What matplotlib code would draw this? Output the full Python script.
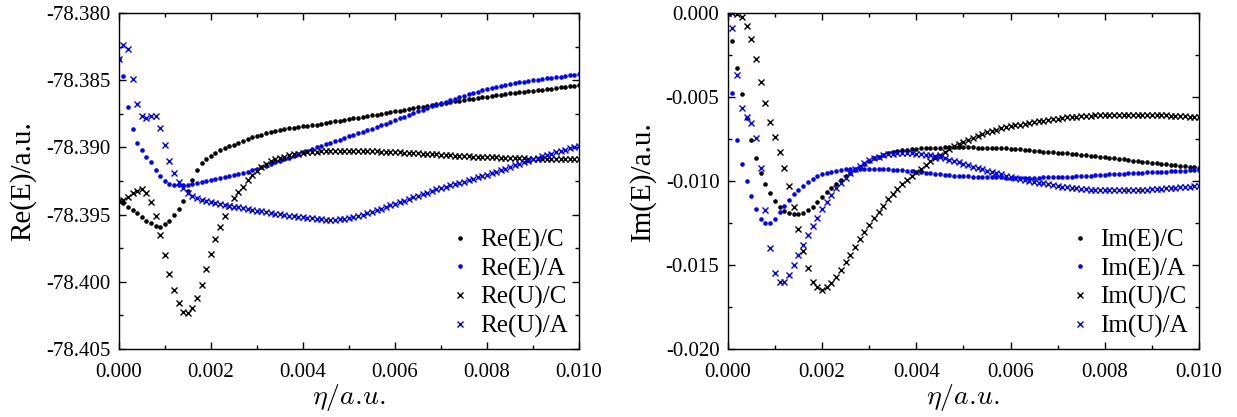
import matplotlib
matplotlib.use("Agg")
import matplotlib.pyplot as plt
import numpy as np
from matplotlib.ticker import MultipleLocator, FormatStrFormatter

plt.rcParams['font.family'] = ['Liberation Serif', 'DejaVu Serif']
plt.rcParams['mathtext.fontset'] = 'cm'
plt.rcParams['axes.unicode_minus'] = False

# eta grid, 0 .. 0.010 in steps of 1e-4
eta = np.arange(101) * 1e-4

re_E_C = [-78.39396, -78.39416, -78.39441, -78.39466, -78.39490, -78.39518, -78.39545, -78.39565, -78.39585, -78.39590,
          -78.39572, -78.39545, -78.39502, -78.39456, -78.39396, -78.39328, -78.39240, -78.39165, -78.39118, -78.39088,
          -78.39062, -78.39040, -78.39022, -78.39006, -78.38992, -78.38980, -78.38966, -78.38952, -78.38938, -78.38925,
          -78.38914, -78.38905, -78.38896, -78.38887, -78.38880, -78.38872, -78.38866, -78.38859, -78.38853, -78.38848,
          -78.38843, -78.38838, -78.38834, -78.38830, -78.38824, -78.38818, -78.38812, -78.38806, -78.38801, -78.38795,
          -78.38790, -78.38784, -78.38778, -78.38773, -78.38767, -78.38762, -78.38756, -78.38751, -78.38745, -78.38739,
          -78.38733, -78.38727, -78.38721, -78.38715, -78.38709, -78.38703, -78.38697, -78.38691, -78.38685, -78.38679,
          -78.38674, -78.38668, -78.38663, -78.38657, -78.38652, -78.38647, -78.38642, -78.38637, -78.38632, -78.38627,
          -78.38622, -78.38617, -78.38612, -78.38608, -78.38603, -78.38599, -78.38595, -78.38590, -78.38586, -78.38582,
          -78.38578, -78.38574, -78.38570, -78.38566, -78.38562, -78.38558, -78.38554, -78.38550, -78.38546, -78.38542,
          -78.38538]

re_E_A = [-78.38340, -78.38466, -78.38697, -78.38866, -78.38965, -78.39020, -78.39070, -78.39110, -78.39170, -78.39210,
          -78.39250, -78.39270, -78.39280, -78.39282, -78.39281, -78.39278, -78.39272, -78.39265, -78.39258, -78.39250,
          -78.39242, -78.39235, -78.39228, -78.39221, -78.39214, -78.39207, -78.39199, -78.39190, -78.39180, -78.39170,
          -78.39159, -78.39148, -78.39136, -78.39124, -78.39112, -78.39100, -78.39088, -78.39076, -78.39063, -78.39051,
          -78.39038, -78.39025, -78.39012, -78.38999, -78.38988, -78.38977, -78.38965, -78.38954, -78.38942, -78.38931,
          -78.38919, -78.38908, -78.38896, -78.38884, -78.38872, -78.38860, -78.38848, -78.38836, -78.38823, -78.38810,
          -78.38797, -78.38784, -78.38771, -78.38758, -78.38745, -78.38732, -78.38719, -78.38706, -78.38694, -78.38682,
          -78.38670, -78.38659, -78.38648, -78.38637, -78.38626, -78.38616, -78.38606, -78.38596, -78.38586, -78.38576,
          -78.38567, -78.38559, -78.38551, -78.38543, -78.38536, -78.38529, -78.38523, -78.38517, -78.38511, -78.38505,
          -78.38500, -78.38495, -78.38490, -78.38485, -78.38481, -78.38477, -78.38473, -78.38469, -78.38465, -78.38461,
          -78.38457]

re_U_C = [-78.39396, -78.39391, -78.39366, -78.39342, -78.39327, -78.39312, -78.39337, -78.39404, -78.39510, -78.39652,
          -78.39803, -78.39942, -78.40061, -78.40160, -78.40222, -78.40235, -78.40197, -78.40122, -78.40024, -78.39905,
          -78.39793, -78.39684, -78.39590, -78.39508, -78.39434, -78.39379, -78.39335, -78.39293, -78.39240, -78.39205,
          -78.39175, -78.39148, -78.39125, -78.39105, -78.39090, -78.39078, -78.39068, -78.39060, -78.39053, -78.39047,
          -78.39042, -78.39038, -78.39034, -78.39031, -78.39029, -78.39027, -78.39026, -78.39025, -78.39024, -78.39024,
          -78.39024, -78.39024, -78.39025, -78.39026, -78.39027, -78.39028, -78.39029, -78.39031, -78.39032, -78.39034,
          -78.39036, -78.39037, -78.39039, -78.39041, -78.39043, -78.39045, -78.39047, -78.39049, -78.39051, -78.39053,
          -78.39055, -78.39057, -78.39059, -78.39061, -78.39063, -78.39065, -78.39067, -78.39068, -78.39070, -78.39071,
          -78.39073, -78.39074, -78.39075, -78.39077, -78.39078, -78.39079, -78.39080, -78.39081, -78.39082, -78.39083,
          -78.39084, -78.39085, -78.39085, -78.39086, -78.39087, -78.39087, -78.39088, -78.39088, -78.39089, -78.39089,
          -78.39089]

re_U_A = [-78.38340, -78.38240, -78.38270, -78.38490, -78.38680, -78.38770, -78.38780, -78.38770, -78.38770, -78.38853,
          -78.38980, -78.39100, -78.39190, -78.39255, -78.39305, -78.39337, -78.39360, -78.39375, -78.39388, -78.39398,
          -78.39407, -78.39415, -78.39422, -78.39429, -78.39435, -78.39441, -78.39447, -78.39453, -78.39459, -78.39465,
          -78.39471, -78.39477, -78.39482, -78.39488, -78.39493, -78.39498, -78.39503, -78.39508, -78.39512, -78.39516,
          -78.39520, -78.39524, -78.39528, -78.39532, -78.39535, -78.39537, -78.39538, -78.39537, -78.39534, -78.39530,
          -78.39524, -78.39517, -78.39509, -78.39500, -78.39490, -78.39479, -78.39468, -78.39456, -78.39444, -78.39432,
          -78.39420, -78.39408, -78.39396, -78.39384, -78.39372, -78.39360, -78.39348, -78.39336, -78.39324, -78.39313,
          -78.39303, -78.39293, -78.39283, -78.39273, -78.39264, -78.39254, -78.39244, -78.39234, -78.39224, -78.39214,
          -78.39204, -78.39193, -78.39182, -78.39170, -78.39158, -78.39146, -78.39134, -78.39122, -78.39110, -78.39098,
          -78.39087, -78.39077, -78.39067, -78.39057, -78.39047, -78.39037, -78.39027, -78.39017, -78.39007, -78.38998,
          -78.38989]

im_E_C = [0.0, -0.00165, -0.00325, -0.00484, -0.00627, -0.00756, -0.00865, -0.00950, -0.01020, -0.01073,
          -0.01117, -0.01153, -0.01179, -0.01192, -0.01198, -0.01198, -0.01190, -0.01173, -0.01153, -0.01125,
          -0.01095, -0.01068, -0.01042, -0.01016, -0.00994, -0.00972, -0.00952, -0.00932, -0.00914, -0.00897,
          -0.00880, -0.00866, -0.00855, -0.00845, -0.00836, -0.00829, -0.00823, -0.00818, -0.00814, -0.00811,
          -0.00808, -0.00806, -0.00804, -0.00803, -0.00802, -0.00801, -0.00800, -0.00800, -0.00800, -0.00800,
          -0.00800, -0.00800, -0.00800, -0.00801, -0.00801, -0.00802, -0.00803, -0.00804, -0.00805, -0.00806,
          -0.00808, -0.00810, -0.00812, -0.00815, -0.00818, -0.00821, -0.00823, -0.00825, -0.00827, -0.00829,
          -0.00832, -0.00834, -0.00836, -0.00839, -0.00841, -0.00844, -0.00847, -0.00850, -0.00853, -0.00856,
          -0.00859, -0.00862, -0.00866, -0.00869, -0.00872, -0.00876, -0.00879, -0.00882, -0.00885, -0.00888,
          -0.00891, -0.00894, -0.00897, -0.00900, -0.00903, -0.00906, -0.00909, -0.00912, -0.00915, -0.00918,
          -0.00921]

im_E_A = [0.0, -0.00478, -0.00756, -0.00899, -0.00998, -0.01089, -0.01169, -0.01226, -0.01248, -0.01248,
          -0.01225, -0.01185, -0.01148, -0.01113, -0.01080, -0.01052, -0.01027, -0.01005, -0.00987, -0.00972,
          -0.00960, -0.00951, -0.00944, -0.00938, -0.00934, -0.00931, -0.00929, -0.00927, -0.00926, -0.00926,
          -0.00926, -0.00927, -0.00928, -0.00929, -0.00930, -0.00932, -0.00934, -0.00936, -0.00939, -0.00942,
          -0.00945, -0.00949, -0.00952, -0.00955, -0.00958, -0.00961, -0.00964, -0.00966, -0.00968, -0.00970,
          -0.00972, -0.00973, -0.00974, -0.00975, -0.00976, -0.00977, -0.00978, -0.00979, -0.00979, -0.00980,
          -0.00980, -0.00980, -0.00980, -0.00980, -0.00980, -0.00980, -0.00980, -0.00979, -0.00979, -0.00978,
          -0.00978, -0.00977, -0.00976, -0.00975, -0.00973, -0.00972, -0.00970, -0.00968, -0.00966, -0.00964,
          -0.00963, -0.00961, -0.00960, -0.00958, -0.00957, -0.00955, -0.00954, -0.00952, -0.00951, -0.00949,
          -0.00948, -0.00947, -0.00945, -0.00944, -0.00942, -0.00941, -0.00940, -0.00938, -0.00937, -0.00936,
          -0.00935]

im_U_C = [0.0, -0.00002, -0.00006, -0.00026, -0.00077, -0.00157, -0.00276, -0.00409, -0.00538, -0.00647,
          -0.00740, -0.00825, -0.00921, -0.01028, -0.01153, -0.01288, -0.01415, -0.01520, -0.01599, -0.01633,
          -0.01649, -0.01633, -0.01605, -0.01570, -0.01530, -0.01485, -0.01440, -0.01392, -0.01347, -0.01304,
          -0.01262, -0.01222, -0.01183, -0.01146, -0.01109, -0.01075, -0.01046, -0.01018, -0.00994, -0.00971,
          -0.00948, -0.00926, -0.00905, -0.00884, -0.00864, -0.00845, -0.00827, -0.00810, -0.00794, -0.00780,
          -0.00767, -0.00754, -0.00742, -0.00731, -0.00720, -0.00711, -0.00702, -0.00694, -0.00687, -0.00681,
          -0.00675, -0.00669, -0.00664, -0.00659, -0.00654, -0.00649, -0.00645, -0.00641, -0.00637, -0.00633,
          -0.00629, -0.00625, -0.00622, -0.00619, -0.00617, -0.00615, -0.00613, -0.00611, -0.00609, -0.00608,
          -0.00607, -0.00606, -0.00606, -0.00605, -0.00605, -0.00605, -0.00606, -0.00606, -0.00606, -0.00607,
          -0.00607, -0.00608, -0.00609, -0.00610, -0.00611, -0.00612, -0.00614, -0.00615, -0.00617, -0.00619,
          -0.00621]

im_U_A = [0.0, -0.00091, -0.00369, -0.00567, -0.00621, -0.00657, -0.00746, -0.00925, -0.01173, -0.01401,
          -0.01550, -0.01599, -0.01599, -0.01560, -0.01500, -0.01440, -0.01381, -0.01321, -0.01268, -0.01218,
          -0.01169, -0.01123, -0.01083, -0.01044, -0.01014, -0.00984, -0.00954, -0.00930, -0.00909, -0.00891,
          -0.00875, -0.00864, -0.00855, -0.00848, -0.00842, -0.00838, -0.00836, -0.00835, -0.00835, -0.00836,
          -0.00837, -0.00839, -0.00843, -0.00848, -0.00853, -0.00859, -0.00866, -0.00873, -0.00881, -0.00889,
          -0.00897, -0.00906, -0.00915, -0.00923, -0.00931, -0.00939, -0.00947, -0.00954, -0.00961, -0.00968,
          -0.00975, -0.00981, -0.00987, -0.00993, -0.00999, -0.01005, -0.01010, -0.01015, -0.01020, -0.01025,
          -0.01030, -0.01034, -0.01038, -0.01041, -0.01044, -0.01047, -0.01049, -0.01051, -0.01052, -0.01053,
          -0.01054, -0.01054, -0.01055, -0.01055, -0.01055, -0.01054, -0.01054, -0.01053, -0.01052, -0.01051,
          -0.01050, -0.01048, -0.01046, -0.01044, -0.01042, -0.01040, -0.01038, -0.01036, -0.01034, -0.01032,
          -0.01030]

fig = plt.figure(figsize=(12.37, 4.17), dpi=100)
ax1 = fig.add_axes([0.0960, 0.1631, 0.3721, 0.8058])
ax2 = fig.add_axes([0.5883, 0.1631, 0.3810, 0.8058])


def draw(ax, ec, ea, uc, ua, names):
    ax.plot(eta, ec, 'o', color='black', ms=3.3, mew=0, label=names[0])
    ax.plot(eta, ea, 'o', color='#0000ff', ms=3.3, mew=0, label=names[1])
    ax.plot(eta, uc, 'x', color='black', ms=4.5, mew=1.0, label=names[2])
    ax.plot(eta, ua, 'x', color='#0000ff', ms=4.5, mew=1.0, label=names[3])
    ax.set_xlim(0, 0.010)
    ax.xaxis.set_major_locator(MultipleLocator(0.002))
    ax.xaxis.set_minor_locator(MultipleLocator(0.001))
    ax.xaxis.set_major_formatter(FormatStrFormatter('%.3f'))
    ax.yaxis.set_major_formatter(FormatStrFormatter('%.3f'))
    ax.tick_params(which='both', direction='in', top=True, right=True, labelsize=15)
    ax.tick_params(which='major', length=5, width=1)
    ax.tick_params(which='minor', length=3, width=1)
    ax.tick_params(axis='x', pad=10)
    ax.tick_params(axis='y', pad=6)
    ax.set_xlabel(r'$\eta/a.\!u.$', fontsize=20, labelpad=0)
    for s in ax.spines.values():
        s.set_linewidth(1.0)
    ax.legend(loc='lower right', frameon=False, fontsize=18, handlelength=0.6,
              handletextpad=0.5, labelspacing=0.22, borderaxespad=0.05)


draw(ax1, re_E_C, re_E_A, re_U_C, re_U_A, ['Re(E)/C', 'Re(E)/A', 'Re(U)/C', 'Re(U)/A'])
ax1.set_ylim(-78.405, -78.380)
ax1.yaxis.set_major_locator(MultipleLocator(0.005))
ax1.yaxis.set_minor_locator(MultipleLocator(0.0025))
ax1.set_ylabel('Re(E)/a.u.', fontsize=21, labelpad=7)

draw(ax2, im_E_C, im_E_A, im_U_C, im_U_A, ['Im(E)/C', 'Im(E)/A', 'Im(U)/C', 'Im(U)/A'])
ax2.set_ylim(-0.020, 0.000)
ax2.yaxis.set_major_locator(MultipleLocator(0.005))
ax2.yaxis.set_minor_locator(MultipleLocator(0.0025))
ax2.set_ylabel('Im(E)/a.u.', fontsize=21, labelpad=7)

fig.savefig('out.png', dpi=100)
